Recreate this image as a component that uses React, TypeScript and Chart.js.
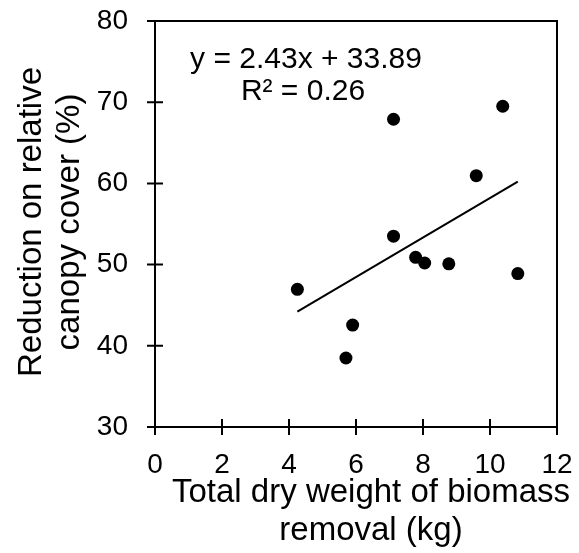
import React, { useEffect, useRef } from 'react';
import { Chart, registerables } from 'chart.js';

Chart.register(...registerables);

// ---- data ----
const biomassKg = [4.25, 5.7, 5.9, 7.12, 7.12, 7.78, 8.05, 8.77, 9.59, 10.38, 10.83];
const canopyReduction = [46.95, 38.5, 42.55, 67.9, 53.5, 50.9, 50.2, 50.1, 60.95, 69.5, 48.9];
const trendSlope = 2.43;
const trendIntercept = 33.89;
const xTickValues = [0, 2, 4, 6, 8, 10, 12];
const yTickValues = [30, 40, 50, 60, 70, 80];
const equationLines = ['y = 2.43x + 33.89', 'R\u00b2 = 0.26'];
const xTitleLines = ['Total dry weight of biomass', 'removal (kg)'];
const yTitleLines = ['Reduction on relative', 'canopy cover (%)'];

const FONT = '"Liberation Sans", Arial, sans-serif';

export default function App() {
  const ref = useRef<HTMLCanvasElement | null>(null);

  useEffect(() => {
    document.body.style.margin = '0';
    const canvas = ref.current;
    if (!canvas) return;

    const xMin = Math.min(...biomassKg);
    const xMax = Math.max(...biomassKg);
    const trend = [xMin, xMax].map((x) => ({ x, y: trendSlope * x + trendIntercept }));
    const points = biomassKg.map((x, i) => ({ x, y: canopyReduction[i] }));

    const framePlugin = {
      id: 'frameAndText',
      afterDraw(chart: any) {
        const { ctx, chartArea: a, scales } = chart;
        const xs = scales.x;
        const ys = scales.y;
        ctx.save();
        ctx.strokeStyle = '#000';
        ctx.lineWidth = 2;
        ctx.strokeRect(a.left, a.top, a.right - a.left, a.bottom - a.top);
        // crossing tick marks
        ctx.beginPath();
        for (const v of yTickValues) {
          const py = ys.getPixelForValue(v);
          ctx.moveTo(a.left - 8, py);
          ctx.lineTo(a.left + 8, py);
        }
        for (const v of xTickValues) {
          const px = xs.getPixelForValue(v);
          ctx.moveTo(px, a.bottom - 8);
          ctx.lineTo(px, a.bottom + 8);
        }
        ctx.stroke();

        ctx.fillStyle = '#000';
        ctx.textAlign = 'center';
        ctx.textBaseline = 'alphabetic';
        // equation
        ctx.font = `30px ${FONT}`;
        const ecx = a.left + 151;
        ctx.fillText(equationLines[0], ecx, a.top + 47);
        ctx.fillText(equationLines[1], ecx - 3, a.top + 79);

        // x title
        ctx.font = `33px ${FONT}`;
        const xcx = (a.left + a.right) / 2 + 15;
        ctx.fillText(xTitleLines[0], xcx, a.bottom + 75);
        ctx.fillText(xTitleLines[1], xcx, a.bottom + 113);

        // y title
        const ycy = (a.top + a.bottom) / 2 - 2;
        ctx.translate(0, ycy);
        ctx.rotate(-Math.PI / 2);
        ctx.fillText(yTitleLines[0], 0, 41);
        ctx.fillText(yTitleLines[1], 0, 79);
        ctx.restore();
      },
    };

    const chart = new Chart(canvas, {
      type: 'scatter',
      data: {
        datasets: [
          {
            type: 'scatter',
            data: points,
            backgroundColor: '#000',
            borderWidth: 0,
            pointRadius: 6.5,
            order: 1,
          },
          {
            type: 'line',
            data: trend,
            borderColor: '#000',
            borderWidth: 2,
            pointRadius: 0,
            fill: false,
            order: 2,
          } as any,
        ],
      },
      options: {
        animation: false,
        responsive: false,
        layout: { padding: { left: 0, top: 21, right: 22, bottom: 0 } },
        plugins: { legend: { display: false }, tooltip: { enabled: false } },
        scales: {
          x: {
            type: 'linear',
            min: 0,
            max: 12,
            afterBuildTicks: (s: any) => {
              s.ticks = xTickValues.map((v) => ({ value: v }));
            },
            afterFit: (s: any) => {
              s.height = 126;
              s.paddingLeft = 0;
              s.paddingRight = 0;
            },
            grid: { display: false },
            border: { display: false },
            ticks: {
              color: '#000',
              font: { family: FONT, size: 28 },
              padding: 13,
              maxRotation: 0,
            },
          },
          y: {
            type: 'linear',
            min: 30,
            max: 80,
            afterBuildTicks: (s: any) => {
              s.ticks = yTickValues.map((v) => ({ value: v }));
            },
            afterFit: (s: any) => {
              s.width = 155;
              s.paddingTop = 0;
              s.paddingBottom = 0;
            },
            grid: { display: false },
            border: { display: false },
            ticks: {
              color: '#000',
              font: { family: FONT, size: 28 },
              padding: 19,
            },
          },
        },
      },
      plugins: [framePlugin],
    } as any);

    return () => chart.destroy();
  }, []);

  return (
    <div style={{ width: 579, height: 553 }}>
      <canvas ref={ref} width={579} height={553} />
    </div>
  );
}
